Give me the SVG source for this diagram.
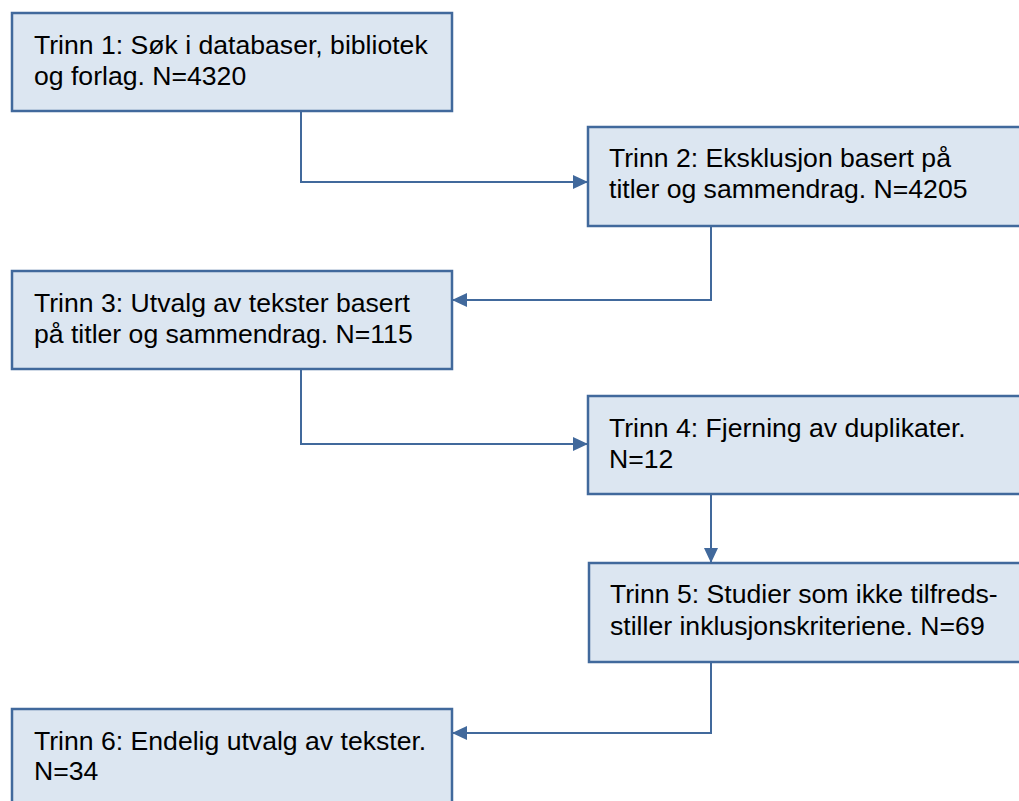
<svg xmlns="http://www.w3.org/2000/svg" width="1019" height="801" viewBox="0 0 1019 801">
<style>
.box{fill:#dce6f1;stroke:#41699c;stroke-width:2.5}
.t{font-family:"Liberation Sans",Arial,sans-serif;font-size:26.6px;fill:#000}
.c{fill:none;stroke:#41699c;stroke-width:2}
</style>
<defs>
<marker id="ah" markerWidth="16" markerHeight="16" refX="14" refY="8" orient="auto" markerUnits="userSpaceOnUse">
<path d="M0,1 L15,8 L0,15 Z" fill="#41699c"/>
</marker>
</defs>
<rect width="1019" height="801" fill="#fff"/>
<g id="connectors">
<path class="c" d="M301,111 V182 H587" marker-end="url(#ah)"/>
<path class="c" d="M711,227 V300 H453" marker-end="url(#ah)"/>
<path class="c" d="M301,370 V444 H587" marker-end="url(#ah)"/>
<path class="c" d="M711,495 V562" marker-end="url(#ah)"/>
<path class="c" d="M711,663 V733 H453" marker-end="url(#ah)"/>
</g>
<g id="n1"><rect class="box" x="12" y="13" width="440" height="98"/>
<text class="t" x="34" y="54">Trinn 1: Søk i databaser, bibliotek</text>
<text class="t" x="34" y="85">og forlag. N=4320</text></g>
<g id="n2"><rect class="box" x="588" y="127" width="450" height="99"/>
<text class="t" x="609" y="167">Trinn 2: Eksklusjon basert på</text>
<text class="t" x="609" y="198">titler og sammendrag. N=4205</text></g>
<g id="n3"><rect class="box" x="12" y="271" width="440" height="98"/>
<text class="t" x="34" y="312">Trinn 3: Utvalg av tekster basert</text>
<text class="t" x="34" y="343">på titler og sammendrag. N=115</text></g>
<g id="n4"><rect class="box" x="588" y="396" width="450" height="98"/>
<text class="t" x="609" y="437">Trinn 4: Fjerning av duplikater.</text>
<text class="t" x="609" y="468">N=12</text></g>
<g id="n5"><rect class="box" x="589" y="563" width="450" height="99"/>
<text class="t" x="610" y="603">Trinn 5: Studier som ikke tilfreds-</text>
<text class="t" x="610" y="635">stiller inklusjonskriteriene. N=69</text></g>
<g id="n6"><rect class="box" x="12" y="709" width="440" height="120"/>
<text class="t" x="34" y="750">Trinn 6: Endelig utvalg av tekster.</text>
<text class="t" x="34" y="780">N=34</text></g>
</svg>
